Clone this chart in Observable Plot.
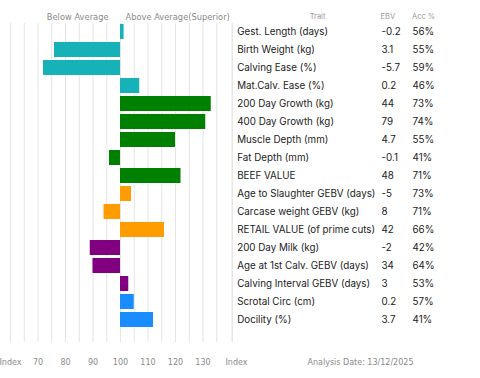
<!DOCTYPE html>
<html>
<head>
<meta charset="utf-8">
<script src="https://cdn.jsdelivr.net/npm/d3@7"></script>
<script src="https://cdn.jsdelivr.net/npm/@observablehq/plot@0.6"></script>
<style>
  html, body { margin: 0; padding: 0; background: #fff; }
  #chart svg { display: block; }
</style>
</head>
<body>
<div id="chart"></div>
<script>
const traits = [
  "Gest. Length (days)", "Birth Weight (kg)", "Calving Ease (%)", "Mat.Calv. Ease (%)",
  "200 Day Growth (kg)", "400 Day Growth (kg)", "Muscle Depth (mm)", "Fat Depth (mm)",
  "BEEF VALUE", "Age to Slaughter GEBV (days)", "Carcase weight GEBV (kg)",
  "RETAIL VALUE (of prime cuts)", "200 Day Milk (kg)", "Age at 1st Calv. GEBV (days)",
  "Calving Interval GEBV (days)", "Scrotal Circ (cm)", "Docility (%)"
];
const indexValues = [101.3, 76, 72, 107, 133, 131, 120, 96, 122, 104, 94, 116, 89, 90, 103, 105, 112];
const ebv = ["-0.2", "3.1", "-5.7", "0.2", "44", "79", "4.7", "-0.1", "48", "-5", "8", "42", "-2", "34", "3", "0.2", "3.7"];
const acc = ["56%", "55%", "59%", "46%", "73%", "74%", "55%", "41%", "71%", "73%", "71%", "66%", "42%", "64%", "53%", "57%", "41%"];
const groups = ["calving", "calving", "calving", "calving", "growth", "growth", "growth", "growth", "growth",
  "carcase", "carcase", "carcase", "maternal", "maternal", "maternal", "other", "other"];
const groupNames = ["calving", "growth", "carcase", "maternal", "other"];
const groupColors = ["#17b2b8", "#008000", "#ff9c00", "#800080", "#1a8cff"];
const gridTicks = [60, 65, 70, 75, 80, 85, 90, 95, 100, 105, 110, 115, 120, 125, 130, 135];
const axisTicks = [60, 70, 80, 90, 100, 110, 120, 130];
const baseline = 100;
const tableEdge = 140;

const rows = traits.map((t, i) => ({trait: t, value: indexValues[i], ebv: ebv[i], acc: acc[i], group: groups[i]}));

const labelFont = "DejaVu Sans, sans-serif";
const tableFont = "Inter, 'Open Sans', sans-serif";

const chart = Plot.plot({
  width: 480,
  height: 378,
  marginLeft: 10,
  marginRight: 250,
  marginTop: 23,
  marginBottom: 36,
  style: {fontFamily: labelFont, background: "#fff", overflow: "visible"},
  x: {domain: [60, 140], axis: null, label: null},
  y: {domain: traits, range: [21.7, 330.3], padding: 0.14, axis: null},
  color: {domain: groupNames, range: groupColors},
  marks: [
    Plot.ruleX(gridTicks, {stroke: "#e4e4e4", strokeWidth: 1}),
    Plot.ruleX([tableEdge], {stroke: "#dcdcdc", strokeWidth: 1, dx: 1.7}),
    Plot.barX(rows, {x1: baseline, x2: "value", y: "trait", fill: "group"}),
    Plot.axisX(axisTicks, {
      tickSize: 0, tickPadding: 17, fontSize: 8, fill: "#8a8a8a", label: null,
      tickFormat: d => d === 60 ? "Index" : String(d)
    }),
    Plot.text(["Index"], {x: tableEdge, frameAnchor: "bottom", dy: 22, dx: 6, textAnchor: "middle",
      fontSize: 8, fill: "#8a8a8a"}),
    Plot.text(["Analysis Date: 13/12/2025"], {x: tableEdge, frameAnchor: "bottom", dy: 22, dx: 77, textAnchor: "start",
      fontSize: 8, fill: "#8a8a8a"}),
    Plot.text(["Below Average"], {x: baseline, frameAnchor: "top", dy: -9, dx: -12, textAnchor: "end",
      fontSize: 8.3, fill: "#8a8a8a"}),
    Plot.text(["Above Average(Superior)"], {x: baseline, frameAnchor: "top", dy: -9, dx: 5, textAnchor: "start",
      fontSize: 8.3, fill: "#8a8a8a"}),
    Plot.text(["Trait"], {x: tableEdge, frameAnchor: "top", dy: -10, dx: 87, textAnchor: "middle",
      fontSize: 7.5, fill: "#999", fontFamily: tableFont}),
    Plot.text(["EBV"], {x: tableEdge, frameAnchor: "top", dy: -10, dx: 150, textAnchor: "start",
      fontSize: 7.5, fill: "#999", fontFamily: tableFont}),
    Plot.text(["Acc %"], {x: tableEdge, frameAnchor: "top", dy: -10, dx: 181.5, textAnchor: "start",
      fontSize: 7.5, fill: "#999", fontFamily: tableFont}),
    Plot.text(rows, {x: () => tableEdge, y: "trait", text: "trait", dx: 6.7, textAnchor: "start",
      fontSize: 9.8, fill: "#222", fontFamily: tableFont}),
    Plot.text(rows, {x: () => tableEdge, y: "trait", text: "ebv", dx: 151, textAnchor: "start",
      fontSize: 9.8, fill: "#222", fontFamily: tableFont}),
    Plot.text(rows, {x: () => tableEdge, y: "trait", text: "acc", dx: 182, textAnchor: "start",
      fontSize: 9.8, fill: "#222", fontFamily: tableFont})
  ]
});
document.getElementById("chart").appendChild(chart);
</script>
</body>
</html>
